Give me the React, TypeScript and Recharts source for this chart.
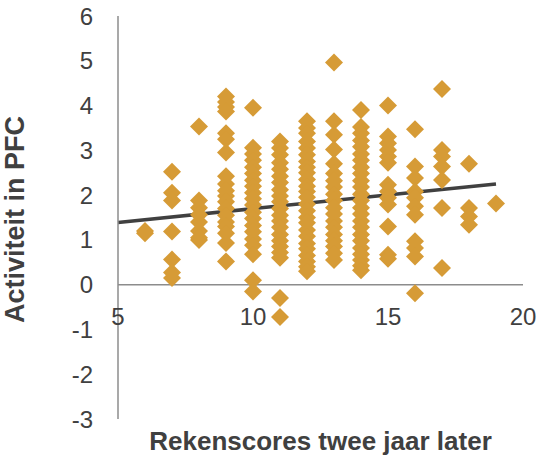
import {
  ScatterChart,
  Scatter,
  XAxis,
  YAxis,
  ReferenceLine,
  Label,
} from "recharts";

// Rekenscores (x) per column, Activiteit in PFC (y)
const pfc6 = [1.15, 1.2];
const pfc7 = [2.52, 2.05, 1.88, 1.19, 0.56, 0.27, 0.15];
const pfc8 = [3.53, 1.88, 1.72, 1.56, 1.4, 1.2, 1.05, 1.0];
const pfc9 = [4.2, 4.08, 3.97, 3.87, 3.38, 3.25, 2.95, 2.42, 2.25, 2.1, 1.98, 1.85, 1.7, 1.55, 1.4, 1.3, 1.15, 0.93, 0.52];
const pfc10 = [3.95, 3.06, 2.92, 2.78, 2.62, 2.48, 2.33, 2.2, 2.05, 1.92, 1.78, 1.62, 1.48, 1.32, 1.18, 1.02, 0.88, 0.68, 0.1, -0.15];
const pfc11 = [3.2, 3.05, 2.9, 2.72, 2.58, 2.42, 2.28, 2.12, 1.98, 1.85, 1.7, 1.55, 1.42, 1.28, 1.12, 0.98, 0.85, 0.72, 0.6, -0.3, -0.72];
const pfc12 = [3.65, 3.5, 3.38, 3.2, 3.05, 2.9, 2.75, 2.62, 2.5, 2.35, 2.2, 2.08, 1.95, 1.8, 1.65, 1.5, 1.38, 1.22, 1.08, 0.92, 0.8, 0.65, 0.52, 0.4, 0.3];
const pfc13 = [4.96, 3.65, 3.35, 3.02, 2.7, 2.48, 2.32, 2.18, 2.02, 1.88, 1.72, 1.58, 1.42, 1.28, 1.12, 0.98, 0.85, 0.7, 0.55];
const pfc14 = [3.9, 3.52, 3.38, 3.22, 3.08, 2.92, 2.78, 2.62, 2.48, 2.32, 2.18, 2.02, 1.88, 1.72, 1.58, 1.42, 1.28, 1.12, 0.98, 0.82, 0.68, 0.55, 0.42, 0.32];
const pfc15 = [4.0, 3.31, 3.16, 3.01, 2.86, 2.72, 2.23, 2.08, 1.94, 1.79, 1.3, 0.67, 0.58];
const pfc16 = [3.47, 2.64, 2.38, 2.08, 1.94, 1.75, 1.56, 0.97, 0.82, 0.63, -0.19];
const pfc17 = [4.37, 3.01, 2.86, 2.64, 2.34, 1.71, 0.37];
const pfc18 = [2.7, 1.71, 1.52, 1.34];
const pfc19 = [1.81];

const columns: [number, number[]][] = [
  [6, pfc6], [7, pfc7], [8, pfc8], [9, pfc9], [10, pfc10], [11, pfc11], [12, pfc12],
  [13, pfc13], [14, pfc14], [15, pfc15], [16, pfc16], [17, pfc17], [18, pfc18], [19, pfc19],
];

const xTicks = [5, 10, 15, 20];
const yTicks = [-3, -2, -1, 0, 1, 2, 3, 4, 5, 6];

// linear trend line end points
const trendX = [5, 19];
const trendY = [1.39, 2.25];

const points = columns.flatMap(([score, vals]) =>
  vals.map((v) => ({ x: score, y: v }))
);

const GOLD = "#D69B36";
const TEXT = "#404040";
const AXIS = "#8C8C8C";
const FONT = "'Liberation Sans', Arial, sans-serif";

function Diamond(props: any) {
  const { cx, cy } = props;
  const r = 9;
  return (
    <polygon
      points={`${cx},${cy - r} ${cx + r},${cy} ${cx},${cy + r} ${cx - r},${cy}`}
      fill={GOLD}
    />
  );
}

function XTick(props: any) {
  const { x, y, payload } = props;
  return (
    <text x={x} y={y - 103} dy="0.355em" textAnchor="middle" fill={TEXT}
      fontSize={24} fontFamily={FONT}>
      {payload.value}
    </text>
  );
}

export default function App() {
  return (
    <div style={{ position: "absolute", left: 0, top: 0 }}>
      <ScatterChart width={541} height={455}
        margin={{ top: 16, right: 18, left: 0, bottom: 0 }}>
        <XAxis type="number" dataKey="x" domain={[5, 20]} ticks={xTicks}
          axisLine={false} tickLine={false} tickSize={0} tickMargin={0}
          height={36} tick={<XTick />} allowDataOverflow>
          <Label value="Rekenscores twee jaar later" position="center" dy={4}
            fill={TEXT} fontSize={26} fontWeight="bold" fontFamily={FONT} />
        </XAxis>
        <YAxis type="number" dataKey="y" domain={[-3, 6]} ticks={yTicks}
          width={118} axisLine={{ stroke: AXIS, strokeWidth: 1.5 }}
          tickLine={false} tickSize={20} tickMargin={5}
          tick={{ fill: TEXT, fontSize: 24, fontFamily: FONT }}>
          <Label value="Activiteit in PFC" angle={-90} position="insideLeft"
            offset={14} dy={2} fill={TEXT} fontSize={27} fontWeight="bold"
            fontFamily={FONT} style={{ textAnchor: "middle" }} />
        </YAxis>
        <ReferenceLine y={0} stroke={AXIS} strokeWidth={1.5} />
        <Scatter data={points} shape={<Diamond />} isAnimationActive={false} />
        <ReferenceLine
          segment={[{ x: trendX[0], y: trendY[0] }, { x: trendX[1], y: trendY[1] }]}
          stroke={TEXT} strokeWidth={3.5} />
      </ScatterChart>
    </div>
  );
}
